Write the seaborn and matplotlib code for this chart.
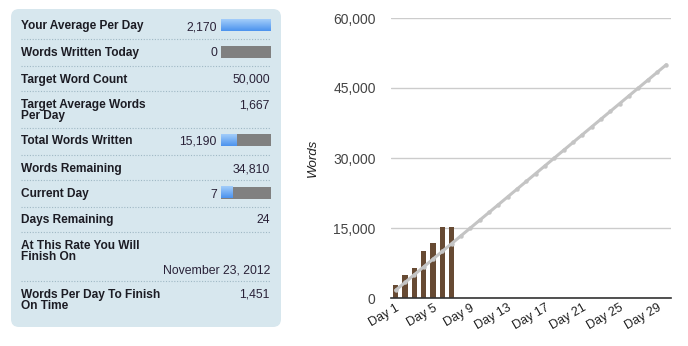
import matplotlib
matplotlib.use("Agg")
import matplotlib.pyplot as plt
import seaborn as sns
import numpy as np
import pandas as pd
from matplotlib.patches import FancyBboxPatch
from matplotlib.lines import Line2D
from matplotlib.colors import LinearSegmentedColormap

# ---------------- data ----------------
day_labels = ["Day %d" % i for i in range(1, 31)]
words_written = [2700, 4900, 6400, 10100, 11800, 15190, 15190]
target_words = [1667, 3333, 5000, 6667, 8333, 10000, 11667, 13333, 15000, 16667,
                18333, 20000, 21667, 23333, 25000, 26667, 28333, 30000, 31667, 33333,
                35000, 36667, 38333, 40000, 41667, 43333, 45000, 46667, 48333, 50000]
shown_ticks = ["Day 1", "Day 5", "Day 9", "Day 13", "Day 17", "Day 21", "Day 25", "Day 29"]
y_ticks = [0, 15000, 30000, 45000, 60000]

stat_labels = ["Your Average Per Day", "Words Written Today", "Target Word Count",
               "Target Average Words\nPer Day", "Total Words Written", "Words Remaining",
               "Current Day", "Days Remaining", "At This Rate You Will\nFinish On",
               "Words Per Day To Finish\nOn Time"]
stat_values = ["2,170", "0", "50,000", "1,667", "15,190", "34,810", "7", "24",
               "November 23, 2012", "1,451"]
# progress bars: (row index, filled fraction)
stat_bars = {0: 1.0, 1: 0.0, 4: 15190 / 50000, 6: 7 / 30}

# ---------------- figure ----------------
sns.set_theme(style="white")
plt.rcParams["font.family"] = ["Liberation Sans", "DejaVu Sans"]

W, H = 688, 346
fig = plt.figure(figsize=(W / 100, H / 100), dpi=100)
fig.patch.set_facecolor("white")

bg = fig.add_axes([0, 0, 1, 1])
bg.set_xlim(0, W)
bg.set_ylim(H, 0)
bg.axis("off")

# panel
panel = FancyBboxPatch((11 + 8, 9 + 8), 270 - 16, 318 - 16,
                       boxstyle="round,pad=8", fc="#d7e7ee", ec="none")
bg.add_patch(panel)

label_base = [29, 55.7, 82.7, 108, 144.3, 172, 196.7, 223.3, 249, 297.7]
value_base = [30, 56.5, 82.7, 108, 145, 172, 197.5, 223.3, 273.3, 297.7]
sep_y = [39, 66, 91, 128, 155, 180, 207, 232, 281]
label_col = "#1c1c24"
value_col = "#2a2238"
line_gap = 11.5

for i, lab in enumerate(stat_labels):
    for k, part in enumerate(lab.split("\n")):
        bg.text(21, label_base[i] + k * line_gap, part, fontsize=8.6,
                fontweight="bold", color=label_col, ha="left", va="baseline")
    vx = 217 if i in stat_bars else 270
    bg.text(vx, value_base[i], stat_values[i], fontsize=8.8, color=value_col,
            ha="right", va="baseline")
for y in sep_y:
    bg.add_line(Line2D([21, 270], [y, y], color="#9fb8c4", lw=0.8,
                       linestyle=(0, (1, 1.5))))

grad = np.linspace(0, 1, 50).reshape(-1, 1)
bcmap = LinearSegmentedColormap.from_list("b", ["#a3cdfa", "#4b93ee"])
bar_mid = {0: 25, 1: 51.5, 4: 140, 6: 192.5}
for i, frac in stat_bars.items():
    yc = bar_mid[i]
    y0, y1 = yc - 6, yc + 6
    x0, x1 = 221, 271
    bg.add_patch(plt.Rectangle((x0, y0), x1 - x0, y1 - y0, fc="#808080", ec="none", lw=0))
    if frac > 0:
        xe = x0 + frac * (x1 - x0)
        bg.imshow(grad, extent=(x0, xe, y1, y0), cmap=bcmap, aspect="auto",
                  interpolation="bilinear", zorder=3)
bg.set_xlim(0, W)
bg.set_ylim(H, 0)

# ---------------- chart ----------------
ax = fig.add_axes([391 / W, 1 - 298 / H, 280 / W, 280 / H])
df = pd.DataFrame({"day": day_labels,
                   "words": words_written + [np.nan] * (30 - len(words_written))})
sns.barplot(data=df, x="day", y="words", order=day_labels, color="#674a33",
            saturation=1, width=0.55, linewidth=0, edgecolor="none", ax=ax)
tdf = pd.DataFrame({"pos": np.arange(30), "target": target_words})
sns.lineplot(data=tdf, x="pos", y="target", color="#c4c4c4", lw=2.2,
             marker="o", markersize=3.2, markeredgewidth=0, ax=ax, zorder=4)

ax.set_xlim(-0.5, 29.5)
ax.set_ylim(0, 60000)
ax.set_yticks(y_ticks)
ax.set_yticklabels([f"{v:,}" for v in y_ticks], fontsize=10, color="#444444")
ax.yaxis.grid(True, color="#cccccc", lw=1)
ax.set_axisbelow(True)
for s in ["top", "right", "left"]:
    ax.spines[s].set_visible(False)
ax.spines["bottom"].set_color("#333333")
ax.spines["bottom"].set_linewidth(1.2)
ax.spines["bottom"].set_zorder(5)

tick_pos = [day_labels.index(t) for t in shown_ticks]
ax.set_xticks(tick_pos)
ax.set_xticklabels(shown_ticks, rotation=30, ha="right", rotation_mode="anchor",
                   fontsize=9, color="#222222")
ax.tick_params(axis="both", length=0)
ax.tick_params(axis="x", pad=3)
ax.tick_params(axis="y", pad=11)
ax.set_xlabel("")
ax.set_ylabel("Words", fontsize=9.5, style="italic", color="#222222", labelpad=10)

fig.savefig("out.png", dpi=100, facecolor="white")
